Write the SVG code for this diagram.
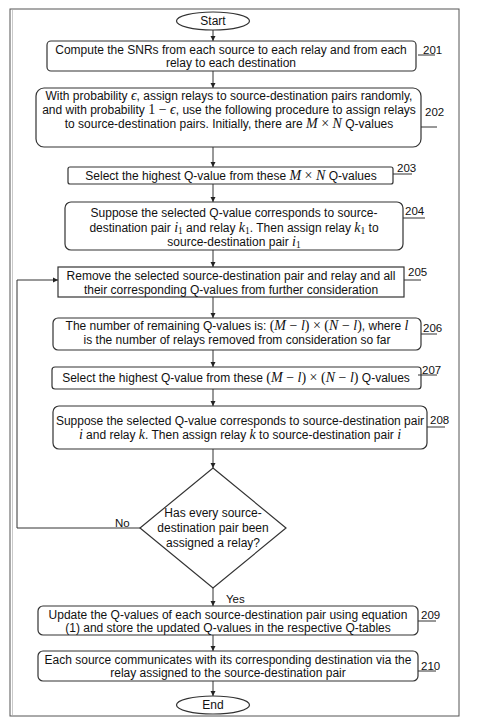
<svg xmlns="http://www.w3.org/2000/svg" width="481" height="721" viewBox="0 0 481 721">
<style>
  .bx{fill:#fff;stroke:#333;stroke-width:1.2}
  .t{font-family:"Liberation Sans",Arial,sans-serif;font-size:12px;fill:#111;text-anchor:middle}
  .lb{font-family:"Liberation Sans",Arial,sans-serif;font-size:11.5px;fill:#111}
  .m{font-family:"Liberation Serif","Times New Roman",serif;font-style:italic;font-size:14px}
  .r{font-family:"Liberation Serif","Times New Roman",serif;font-size:14px}
  .s{font-family:"Liberation Serif","Times New Roman",serif;font-size:9.5px}
  .ln{fill:none;stroke:#333;stroke-width:1}
  .ld{fill:none;stroke:#333;stroke-width:1}
</style>
<defs>
  <marker id="ah" markerWidth="6" markerHeight="6" refX="5" refY="3" orient="auto" markerUnits="userSpaceOnUse">
    <path d="M0,0.5 L5,3 L0,5.5 Z" fill="#222"/>
  </marker>
</defs>
<rect x="0" y="0" width="481" height="721" fill="#fff"/>
<rect x="10" y="9" width="449" height="707" fill="none" stroke="#555" stroke-width="1"/>
<line x1="12.5" y1="10" x2="12.5" y2="715" stroke="#bbb" stroke-width="0.8"/>

<g id="connectors">
  <line class="ln" x1="213" y1="30" x2="213" y2="41" marker-end="url(#ah)"/>
  <line class="ln" x1="213" y1="71" x2="213" y2="88" marker-end="url(#ah)"/>
  <line class="ln" x1="213" y1="147" x2="213" y2="167" marker-end="url(#ah)"/>
  <line class="ln" x1="213" y1="184" x2="213" y2="202" marker-end="url(#ah)"/>
  <line class="ln" x1="213" y1="250" x2="213" y2="267" marker-end="url(#ah)"/>
  <line class="ln" x1="213" y1="297" x2="213" y2="318" marker-end="url(#ah)"/>
  <line class="ln" x1="213" y1="350" x2="213" y2="367" marker-end="url(#ah)"/>
  <line class="ln" x1="213" y1="389" x2="213" y2="406" marker-end="url(#ah)"/>
  <line class="ln" x1="213" y1="449" x2="213" y2="468" marker-end="url(#ah)"/>
  <line class="ln" x1="213" y1="588" x2="213" y2="606" marker-end="url(#ah)"/>
  <line class="ln" x1="213" y1="635" x2="213" y2="651" marker-end="url(#ah)"/>
  <line class="ln" x1="213" y1="681" x2="213" y2="696" marker-end="url(#ah)"/>
  <polyline class="ln" points="140,528 17,528 17,280 58,280" marker-end="url(#ah)"/>
  <text class="lb" x="115" y="527" font-size="12">No</text>
  <text class="lb" x="226" y="603" font-size="12">Yes</text>
</g>

<g id="start">
  <ellipse class="bx" cx="213" cy="21" rx="36.5" ry="9"/>
  <text class="t" x="213" y="25">Start</text>
</g>

<g id="n201">
  <rect class="bx" x="47" y="41" width="369" height="30" rx="4"/>
  <text class="t" x="231" y="54">Compute the SNRs from each source to each relay and from each</text>
  <text class="t" x="231" y="67">relay to each destination</text>
  <text class="lb" x="423" y="54">201</text>
  <line class="ld" x1="418" y1="55" x2="435" y2="55"/>
</g>

<g id="n202">
  <rect class="bx" x="36" y="88" width="385" height="59" rx="8"/>
  <text class="t" x="229" y="100">With probability <tspan class="m">ϵ</tspan>, assign relays to source-destination pairs randomly,</text>
  <text class="t" x="229" y="114">and with probability <tspan class="r">1 − </tspan><tspan class="m">ϵ</tspan>, use the following procedure to assign relays</text>
  <text class="t" x="229" y="128">to source-destination pairs. Initially, there are <tspan class="m">M</tspan><tspan class="r"> × </tspan><tspan class="m">N</tspan> Q-values</text>
  <text class="lb" x="425" y="116">202</text>
  <line class="ld" x1="421" y1="127" x2="437" y2="127"/>
</g>

<g id="n203">
  <rect class="bx" x="68" y="167" width="325" height="17" rx="2"/>
  <text class="t" x="231" y="180">Select the highest Q-value from these <tspan class="m">M</tspan><tspan class="r"> × </tspan><tspan class="m">N</tspan> Q-values</text>
  <text class="lb" x="397" y="172">203</text>
  <line class="ld" x1="393" y1="174" x2="412" y2="174"/>
</g>

<g id="n204">
  <rect class="bx" x="65" y="202" width="338" height="48" rx="6"/>
  <text class="t" x="234" y="217">Suppose the selected Q-value corresponds to source-</text>
  <text class="t" x="234" y="232">destination pair <tspan class="m">i</tspan><tspan class="s" dy="2">1</tspan><tspan dy="-2"> and relay </tspan><tspan class="m">k</tspan><tspan class="s" dy="2">1</tspan><tspan dy="-2">. Then assign relay </tspan><tspan class="m">k</tspan><tspan class="s" dy="2">1</tspan><tspan dy="-2"> to</tspan></text>
  <text class="t" x="234" y="246">source-destination pair <tspan class="m">i</tspan><tspan class="s" dy="2">1</tspan></text>
  <text class="lb" x="405" y="215">204</text>
  <line class="ld" x1="403" y1="218" x2="425" y2="218"/>
</g>

<g id="n205">
  <rect class="bx" x="58" y="267" width="346" height="30"/>
  <text class="t" x="231" y="280">Remove the selected source-destination pair and relay and all</text>
  <text class="t" x="231" y="294">their corresponding Q-values from further consideration</text>
  <text class="lb" x="408" y="276">205</text>
  <line class="ld" x1="404" y1="280" x2="421" y2="280"/>
</g>

<g id="n206">
  <rect class="bx" x="53" y="318" width="368" height="32" rx="5"/>
  <text class="t" x="237" y="330">The number of remaining Q-values is: <tspan class="r">(</tspan><tspan class="m">M</tspan><tspan class="r"> − </tspan><tspan class="m">l</tspan><tspan class="r">) × (</tspan><tspan class="m">N</tspan><tspan class="r"> − </tspan><tspan class="m">l</tspan><tspan class="r">)</tspan>, where <tspan class="m">l</tspan></text>
  <text class="t" x="237" y="344">is the number of relays removed from consideration so far</text>
  <text class="lb" x="423" y="332">206</text>
  <line class="ld" x1="421" y1="334" x2="437" y2="334"/>
</g>

<g id="n207">
  <rect class="bx" x="52" y="367" width="369" height="22" rx="3"/>
  <text class="t" x="236" y="382">Select the highest Q-value from these <tspan class="r">(</tspan><tspan class="m">M</tspan><tspan class="r"> − </tspan><tspan class="m">l</tspan><tspan class="r">) × (</tspan><tspan class="m">N</tspan><tspan class="r"> − </tspan><tspan class="m">l</tspan><tspan class="r">)</tspan> Q-values</text>
  <text class="lb" x="422" y="374">207</text>
  <line class="ld" x1="418" y1="375" x2="437" y2="375"/>
</g>

<g id="n208">
  <rect class="bx" x="53" y="406" width="374" height="43" rx="6"/>
  <text class="t" x="240" y="425">Suppose the selected Q-value corresponds to source-destination pair</text>
  <text class="t" x="240" y="439"><tspan class="m">i</tspan> and relay <tspan class="m">k</tspan>. Then assign relay <tspan class="m">k</tspan> to source-destination pair <tspan class="m">i</tspan></text>
  <text class="lb" x="430" y="424">208</text>
  <line class="ld" x1="427" y1="427" x2="445" y2="427"/>
</g>

<g id="decision">
  <polygon class="bx" points="213,468 286,528 213,588 140,528"/>
  <text class="t" x="213" y="517">Has every source-</text>
  <text class="t" x="213" y="532">destination pair been</text>
  <text class="t" x="213" y="547">assigned a relay?</text>
</g>

<g id="n209">
  <rect class="bx" x="38" y="606" width="380" height="29" rx="5"/>
  <text class="t" x="228" y="619">Update the Q-values of each source-destination pair using equation</text>
  <text class="t" x="228" y="632">(1) and store the updated Q-values in the respective Q-tables</text>
  <text class="lb" x="421" y="619">209</text>
  <line class="ld" x1="418" y1="621" x2="436" y2="621"/>
</g>

<g id="n210">
  <rect class="bx" x="38" y="651" width="380" height="30" rx="5"/>
  <text class="t" x="228" y="664">Each source communicates with its corresponding destination via the</text>
  <text class="t" x="228" y="677">relay assigned to the source-destination pair</text>
  <text class="lb" x="421" y="670">210</text>
  <line class="ld" x1="418" y1="671" x2="436" y2="671"/>
</g>

<g id="end">
  <ellipse class="bx" cx="213" cy="705" rx="36.5" ry="9"/>
  <text class="t" x="213" y="709">End</text>
</g>
</svg>
